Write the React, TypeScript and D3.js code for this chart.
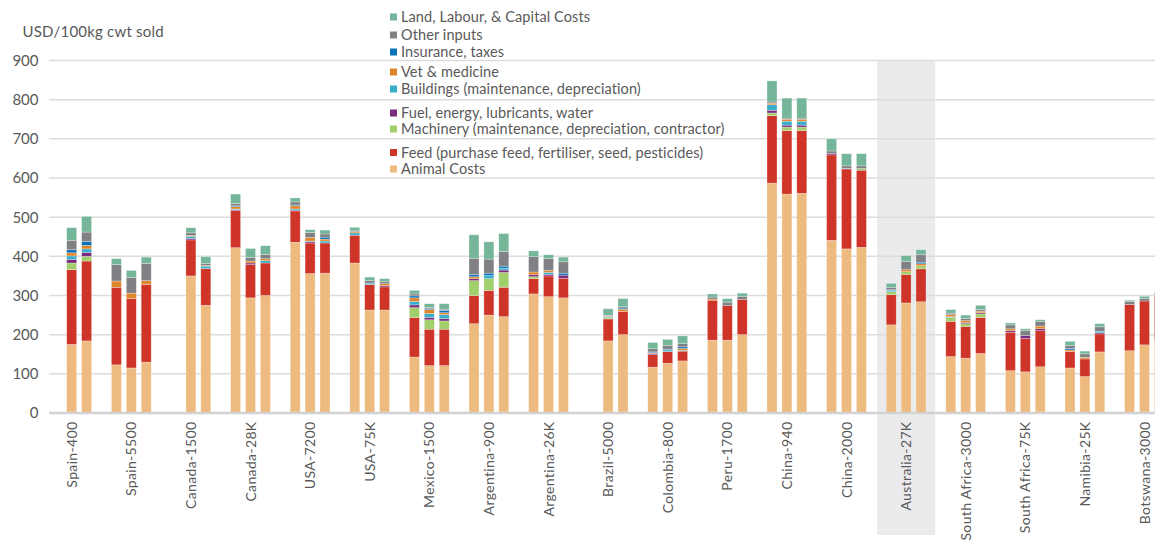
import React from "react";
import * as d3 from "d3";

// ---------- DATA ----------
const categories = [
  "Spain-400", "Spain-5500", "Canada-1500", "Canada-28K", "USA-7200", "USA-75K",
  "Mexico-1500", "Argentina-900", "Argentina-26K", "Brazil-5000", "Colombia-800",
  "Peru-1700", "China-940", "China-2000", "Australia-27K", "South Africa-3000",
  "South Africa-75K", "Namibia-25K", "Botswana-3000",
];
const highlightCategory = "Australia-27K";
const yTicks = [0, 100, 200, 300, 400, 500, 600, 700, 800, 900];
const yTitle = "USD/100kg cwt sold";

// three farm slots per category (null = no farm in that slot)
const animalCosts = [
  null, 175, 184, 123, 115, 130, null, 350, 275, 422, 294, 300, 436, 356, 357, 383, 263, 263,
  143, 121, 121, 228, 250, 246, 304, 297, 294, null, 184, 200, 117, 127, 133, 186, 186, 200,
  587, 559, 561, 441, 419, 423, 225, 281, 284, 144, 140, 152, 108, 105, 118, 115, 93, 156,
  159, 174, 187,
];
const feed = [
  null, 191, 204, 198, 177, 198, null, 92, 94, 95, 85, 83, 80, 78, 77, 71, 65, 59,
  101, 93, 93, 72, 63, 75, 39, 53, 50, null, 56, 59, 32, 30, 25, 102, 88, 90,
  172, 162, 160, 218, 204, 197, 77, 73, 84, 90, 81, 92, 98, 85, 92, 42, 45, 46,
  118, 112, 113,
];
const machinery = [
  null, 17, 12, 0, 0, 0, null, 0, 0, 0, 0, 0, 0, 0, 0, 0, 0, 0,
  25, 24, 21, 38, 30, 38, 5, 0, 0, null, 3, 0, 0, 0, 0, 0, 0, 0,
  7, 9, 9, 0, 0, 4, 8, 7, 8, 10, 7, 9, 0, 0, 0, 0, 0, 0,
  0, 0, 0,
];
const fuel = [
  null, 9, 10, 0, 0, 0, null, 4, 0, 2, 4, 0, 2, 3, 0, 0, 0, 3,
  7, 6, 6, 5, 0, 6, 5, 4, 8, null, 0, 0, 3, 0, 0, 0, 0, 0,
  7, 5, 5, 4, 0, 0, 0, 0, 0, 0, 3, 3, 4, 8, 5, 0, 0, 3,
  0, 0, 0,
];
const buildings = [
  null, 9, 9, 0, 0, 0, null, 5, 6, 2, 0, 6, 3, 2, 5, 6, 2, 0,
  9, 10, 10, 0, 8, 5, 0, 5, 0, null, 2, 0, 0, 4, 2, 0, 0, 0,
  14, 10, 10, 0, 2, 0, 3, 0, 0, 2, 0, 0, 0, 0, 0, 0, 0, 4,
  0, 0, 0,
];
const vetMedicine = [
  null, 8, 9, 16, 14, 10, null, 2, 2, 6, 5, 5, 8, 9, 5, 3, 0, 5,
  9, 10, 5, 5, 0, 0, 7, 5, 0, null, 2, 6, 2, 0, 5, 3, 0, 0,
  4, 5, 5, 0, 0, 0, 0, 5, 5, 5, 5, 4, 5, 0, 7, 4, 4, 0,
  0, 0, 0,
];
const insuranceTaxes = [
  null, 8, 10, 0, 0, 0, null, 0, 0, 2, 0, 0, 2, 0, 5, 0, 2, 0,
  5, 2, 6, 6, 6, 5, 0, 0, 5, null, 0, 3, 2, 2, 4, 0, 0, 0,
  0, 0, 0, 0, 0, 0, 2, 0, 4, 0, 0, 0, 0, 0, 0, 4, 0, 0,
  0, 0, 0,
];
const otherInputs = [
  null, 24, 24, 42, 40, 44, null, 7, 5, 6, 9, 11, 8, 13, 8, 2, 6, 5,
  5, 3, 3, 41, 36, 37, 39, 30, 29, null, 2, 3, 8, 9, 8, 5, 9, 8,
  3, 3, 3, 6, 6, 7, 5, 21, 19, 4, 5, 4, 10, 12, 12, 7, 9, 11,
  8, 7, 7,
];
const landLabourCapital = [
  null, 32, 40, 15, 18, 16, null, 13, 17, 24, 23, 22, 10, 7, 10, 9, 9, 8,
  9, 10, 14, 60, 44, 46, 15, 10, 12, null, 17, 21, 16, 16, 20, 8, 9, 8,
  54, 51, 51, 31, 31, 31, 11, 15, 13, 9, 9, 11, 5, 5, 4, 11, 7, 8,
  3, 5, 3,
];

const seriesNames = [
  "Animal Costs",
  "Feed (purchase feed, fertiliser, seed, pesticides)",
  "Machinery (maintenance, depreciation, contractor)",
  "Fuel, energy, lubricants, water",
  "Buildings (maintenance, depreciation)",
  "Vet & medicine",
  "Insurance, taxes",
  "Other inputs",
  "Land, Labour, & Capital Costs",
];
const seriesValues = [
  animalCosts, feed, machinery, fuel, buildings, vetMedicine, insuranceTaxes, otherInputs, landLabourCapital,
];

// ---------- STYLE ----------
const colors = [
  "#EDBB80", "#CF3429", "#A1CF6B", "#7B2C7E", "#38AECB", "#E0862C", "#0B72BA", "#808184", "#75B69B",
];
const FONT = "Lato, 'Open Sans', sans-serif";
const TEXT = "#595959";
// legend row centres (top to bottom), placed between the gridlines like the original
const legendRowY = [17, 35, 52, 72, 89, 113, 129, 152.5, 169];

export default function App() {
  const W = 1155;
  const H = 542;
  const SLOTS = 4; // 3 farms + 1 gap per category

  const slotKeys: string[] = [];
  categories.forEach((_, i) => {
    for (let s = 0; s < SLOTS; s++) slotKeys.push(`${i}-${s}`);
  });

  const x = d3
    .scaleBand<string>()
    .domain(slotKeys)
    .range([49.35, 49.35 + 14.9 * slotKeys.length])
    .paddingInner(0.33)
    .paddingOuter(0.165);

  const y = d3.scaleLinear().domain([0, 900]).range([413, 60.5]);

  const keys = seriesNames.map((_, k) => `s${k}`);
  const rows = categories.flatMap((_, i) =>
    [0, 1, 2].map((s) => {
      const idx = i * 3 + s;
      const row: any = { slot: `${i}-${s}`, present: animalCosts[idx] != null };
      keys.forEach((key, k) => {
        row[key] = seriesValues[k][idx] ?? 0;
      });
      return row;
    })
  );
  const stacked = d3.stack<any>().keys(keys)(rows);

  const labelX = (i: number) => (x(`${i}-1`) as number) + x.bandwidth() / 2;
  const hiIdx = categories.indexOf(highlightCategory);
  const hiCenter = labelX(hiIdx);
  const catStep = x.step() * SLOTS;

  const legendOrder = [8, 7, 6, 5, 4, 3, 2, 1, 0];

  return (
    <svg
      width={W}
      height={H}
      style={{ position: "absolute", left: 0, top: 0, background: "#fff" }}
      fontFamily={FONT}
    >
      {/* highlight band */}
      <rect
        x={hiCenter - catStep / 2 + 0.8}
        y={y(900)}
        width={catStep - 1.6}
        height={535 - y(900)}
        fill="#EBEBED"
      />
      {/* gridlines */}
      {yTicks.filter((t) => t > 0).map((t) => (
        <line key={t} x1={49} x2={W} y1={y(t)} y2={y(t)} stroke="#DCDCDC" strokeWidth={1.5} />
      ))}
      {/* bars */}
      {stacked.map((layer, k) => (
        <g key={layer.key} fill={colors[k]}>
          {layer.map((d, j) =>
            d.data.present && d[1] - d[0] > 0 ? (
              <rect
                key={j}
                x={x(d.data.slot)}
                y={y(d[1])}
                width={x.bandwidth()}
                height={y(d[0]) - y(d[1])}
                stroke="rgba(255,255,255,0.45)"
                strokeWidth={0.6}
              />
            ) : null
          )}
        </g>
      ))}
      {/* baseline */}
      <line x1={49} x2={W} y1={y(0)} y2={y(0)} stroke="#D2D2D2" strokeWidth={2.5} />
      {/* y tick labels */}
      {yTicks.map((t) => (
        <text key={t} x={38.5} y={y(t)} dy="0.36em" textAnchor="end" fontSize={15} fill={TEXT}>
          {t}
        </text>
      ))}
      <text x={22.5} y={37} fontSize={15} letterSpacing={0.2} fill={TEXT}>
        {yTitle}
      </text>
      {/* category labels */}
      {categories.map((c, i) => (
        <text
          key={c}
          transform={`translate(${labelX(i)},${421.5}) rotate(-90)`}
          textAnchor="end"
          dy="0.36em"
          fontSize={14}
          letterSpacing={0.35}
          fill={TEXT}
        >
          {c}
        </text>
      ))}
      {/* legend */}
      {legendOrder.map((k, r) => (
        <g key={k} transform={`translate(390,${legendRowY[r]})`}>
          <rect x={0} y={-3.5} width={7} height={7} fill={colors[k]} />
          <text x={11} y={0} dy="0.36em" fontSize={14.5} letterSpacing={0.1} fill={TEXT}>
            {seriesNames[k]}
          </text>
        </g>
      ))}
    </svg>
  );
}
